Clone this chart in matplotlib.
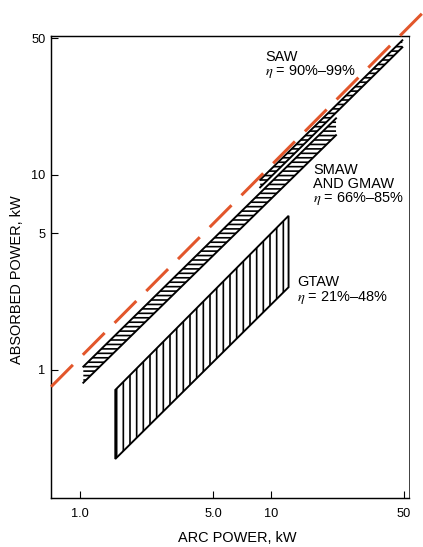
import numpy as np
import matplotlib
matplotlib.use("Agg")
from matplotlib import pyplot as plt
from matplotlib.patches import Polygon

plt.rcParams['font.family'] = ['Liberation Sans', 'DejaVu Sans']
plt.rcParams['mathtext.fontset'] = 'stix'
plt.rcParams['hatch.linewidth'] = 1.5

# bands: arc power at the two ends, absorbed power (upper, lower) at each end
saw_x = [8.8, 49.0]
saw_hi = [9.4, 48.7]
saw_lo = [8.6, 44.8]

smaw_x = [1.04, 22.0]
smaw_hi = [1.04, 19.4]
smaw_lo = [0.86, 15.9]

gtaw_x = [1.53, 12.4]
gtaw_hi = [0.79, 6.15]
gtaw_lo = [0.35, 2.65]

# reference line (arc power fully absorbed)
ref_x = [0.705, 63.0]
ref_y = [0.82, 67.6]

xticks = [1.0, 5.0, 10, 50]
xtick_labels = ['1.0', '5.0', '10', '50']
yticks = [1, 5, 10, 50]
ytick_labels = ['1', '5', '10', '50']

dpi = 80
fig = plt.figure(figsize=(423 / dpi, 547 / dpi), dpi=dpi)
ax = fig.add_axes([51 / 423, 1 - 498 / 547, 358 / 423, 462 / 547])
ax.set_xscale('log')
ax.set_yscale('log')
ax.set_xlim(0.704, 53.1)
ax.set_ylim(0.221, 51.2)


def band(x, hi, lo, hatch, closed=False):
    verts = [(x[0], hi[0]), (x[1], hi[1]), (x[1], lo[1]), (x[0], lo[0])]
    p = Polygon(verts, closed=True, fill=False, hatch=hatch,
                edgecolor='black', linewidth=1.7 if closed else 0)
    ax.add_patch(p)
    if not closed:
        ax.plot(x, hi, color='black', lw=1.7)
        ax.plot(x, lo, color='black', lw=1.7)


band(saw_x, saw_hi, saw_lo, '---')
band(smaw_x, smaw_hi, smaw_lo, '---')
band(gtaw_x, gtaw_hi, gtaw_lo, '||', closed=True)

line, = ax.plot(ref_x, ref_y, color='#E2562B', lw=2.7, clip_on=False, zorder=5)
line.set_dashes((10.3, 4.7))

ax.text(9.36, 43.5, 'SAW\n$\\eta$ = 90%–99%', fontsize=13, va='top', ha='left',
        linespacing=0.95)
ax.text(16.7, 11.4, 'SMAW\nAND GMAW\n$\\eta$ = 66%–85%', fontsize=13, va='top',
        ha='left', linespacing=0.95)
ax.text(13.8, 3.05, 'GTAW\n$\\eta$ = 21%–48%', fontsize=13, va='top', ha='left',
        linespacing=0.95)

ax.set_xticks(xticks)
ax.set_xticklabels(xtick_labels)
ax.set_yticks(yticks)
ax.set_yticklabels(ytick_labels)
ax.minorticks_off()
ax.tick_params(direction='in', length=6, width=1.0, labelsize=11.5)
ax.tick_params(axis='x', pad=9)
ax.tick_params(axis='y', pad=5)

ax.set_xlabel('ARC POWER, kW', fontsize=13)
ax.set_ylabel('ABSORBED POWER, kW', fontsize=13)
ax.xaxis.set_label_coords(0.52, -0.071)
ax.yaxis.set_label_coords(-0.075, 0.472)

for s in ['left', 'bottom', 'top']:
    ax.spines[s].set_linewidth(1.3)
ax.spines['right'].set_linewidth(0.9)
ax.spines['right'].set_color('#444444')

fig.savefig('out.png', dpi=dpi)
